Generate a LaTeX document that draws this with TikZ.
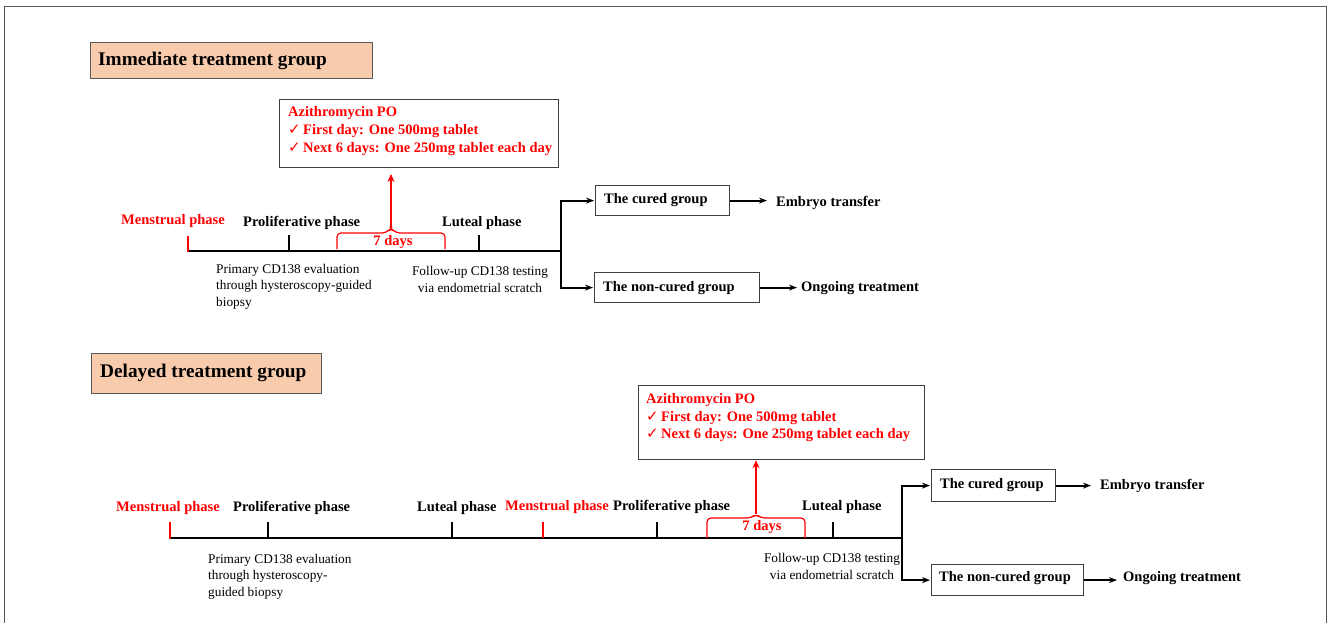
\documentclass[tikz,border=0pt]{standalone}
\usepackage{fontspec}
\setmainfont{Liberation Serif}
\newfontfamily\symfont{DejaVu Sans}
\usetikzlibrary{arrows.meta}
\definecolor{peach}{HTML}{F8CBAD}
\definecolor{tred}{HTML}{FF0000}
\definecolor{framegray}{HTML}{595959}
\definecolor{boxgray}{HTML}{404040}
\newcommand{\chk}{{\symfont\fontsize{15}{17}\selectfont ✓}\,}
\tikzset{
 tbox/.style={draw=framegray, line width=1.3pt, fill=peach, inner sep=0pt, anchor=north west},
 gbox/.style={draw=boxgray, line width=1.2pt, inner sep=0pt, anchor=north west},
 bl/.style={inner sep=0pt, anchor=base west, font=\fontsize{14.5}{18}\selectfont\bfseries},
 rl/.style={bl, text=tred},
 nt/.style={inner sep=0pt, anchor=base west, font=\fontsize{13.3}{16.3}\selectfont, align=left},
 ntc/.style={nt, anchor=base, align=center},
 ttl/.style={inner sep=0pt, anchor=base west, font=\fontsize{19.3}{22}\selectfont\bfseries},
 tline/.style={line width=2.5pt},
 tick/.style={line width=2.5pt},
 rtick/.style={line width=2.5pt, draw=tred},
 conn/.style={line width=2pt, shorten >=1pt, -{Stealth[length=8pt,width=6pt]}},
 rarr/.style={line width=1.2pt, draw=tred, -{Stealth[length=8pt,width=7pt]}},
 brc/.style={line width=1.2pt, draw=tred, rounded corners=4pt},
}
\begin{document}
\begin{tikzpicture}[x=1pt,y=-1pt]
\useasboundingbox (0,0) rectangle (1328,623);
\draw[framegray, line width=1pt] (4,623) -- (4,7) -- (1326,7) -- (1326,623);

% ================= Immediate =================
\node[tbox, minimum width=282pt, minimum height=36pt] (title1) at (90,42) {};
\node[ttl] (title1t) at (98,66) {Immediate treatment group};

\node[gbox, minimum width=279pt, minimum height=68pt] (azi1) at (279,99) {};
\node[rl] (azi1a) at (288,117) {Azithromycin PO};
\node[rl] (azi1b) at (288,135) {\chk First day: One 500mg tablet};
\node[rl] (azi1c) at (288,153) {\chk Next 6 days: One 250mg tablet each day};

\coordinate (tl1s) at (187,251);
\coordinate (tl1e) at (561,251);
\draw[tline] (tl1s) -- (tl1e);
\draw[rtick] (188,236) -- (188,252.2);
\draw[tick] (289,235) -- (289,251);
\draw[tick] (479,235) -- (479,251);

\node[rl] (men1) at (121,224) {Menstrual phase};
\node[bl] (pro1) at (243,226) {Proliferative phase};
\node[bl] (lut1) at (442,226) {Luteal phase};

\coordinate (b1tip) at (391,228);
\draw[brc] (337,249) -- (337,233) -- (386,233) -- (b1tip) -- (396,233) -- (445,233) -- (445,249);
\node[rl, anchor=base] (d1) at (393,245) {7 days};
\coordinate (a1end) at (391,174);
\draw[rarr] (b1tip) -- (a1end);

\node[nt] (prim1) at (216,306) {Primary CD138 evaluation\\through hysteroscopy-guided\\biopsy};
\node[ntc] (fol1) at (480,292) {Follow-up CD138 testing\\via endometrial scratch};

\node[gbox, minimum width=134pt, minimum height=30pt] (cur1) at (595,185) {};
\node[bl] (cur1t) at (604,204) {The cured group};
\node[gbox, minimum width=165pt, minimum height=30pt] (non1) at (594,272) {};
\node[bl] (non1t) at (603,291) {The non-cured group};
\draw[conn] (tl1e) |- (cur1.west);
\draw[conn] (tl1e) |- (non1.west);
\node[bl] (emb1) at (776,206) {Embryo transfer};
\node[bl] (ong1) at (801,291) {Ongoing treatment};
\draw[conn, shorten >=9pt] (cur1.east) -- (cur1.east -| emb1.west);
\draw[conn, shorten >=4pt] (non1.east) -- (non1.east -| ong1.west);

% ================= Delayed =================
\node[tbox, minimum width=230pt, minimum height=40pt] (title2) at (91,353) {};
\node[ttl] (title2t) at (100,377) {Delayed treatment group};

\node[gbox, minimum width=286pt, minimum height=74pt] (azi2) at (638,385) {};
\node[rl] (azi2a) at (646,403) {Azithromycin PO};
\node[rl] (azi2b) at (646,421) {\chk First day: One 500mg tablet};
\node[rl] (azi2c) at (646,438) {\chk Next 6 days: One 250mg tablet each day};

\coordinate (tl2s) at (170,538);
\coordinate (tl2e) at (902,538);
\draw[tline] (tl2s) -- (tl2e);
\draw[rtick] (170,522) -- (170,539.2);
\draw[tick] (268,522) -- (268,538);
\draw[tick] (452,522) -- (452,538);
\draw[rtick] (543,522) -- (543,538);
\draw[tick] (657,522) -- (657,538);
\draw[tick] (833,522) -- (833,538);

\node[rl] (men2) at (116,511) {Menstrual phase};
\node[bl] (pro2) at (233,511) {Proliferative phase};
\node[bl] (lut2) at (417,511) {Luteal phase};
\node[rl] (men3) at (505,510) {Menstrual phase};
\node[bl] (pro3) at (613,510) {Proliferative phase};
\node[bl] (lut3) at (802,510) {Luteal phase};

\coordinate (b2tip) at (756,514);
\draw[brc] (707,538) -- (707,518) -- (751,518) -- (b2tip) -- (761,518) -- (805,518) -- (805,538);
\node[rl, anchor=base] (d2) at (762,530) {7 days};
\draw[rarr] (b2tip) -- (b2tip |- azi2.south);

\node[nt] (prim2) at (208,596) {Primary CD138 evaluation\\through hysteroscopy-\\guided biopsy};
\node[ntc] (fol2) at (832,579) {Follow-up CD138 testing\\via endometrial scratch};

\node[gbox, minimum width=124pt, minimum height=32pt] (cur2) at (931,469) {};
\node[bl] (cur2t) at (940,488) {The cured group};
\node[gbox, minimum width=152pt, minimum height=31pt] (non2) at (931,564) {};
\node[bl] (non2t) at (939,581) {The non-cured group};
\draw[conn] (tl2e) |- (cur2.west);
\draw[conn] (tl2e) |- (non2.west);
\node[bl] (emb2) at (1100,489) {Embryo transfer};
\node[bl] (ong2) at (1123,581) {Ongoing treatment};
\draw[conn, shorten >=9pt] (cur2.east) -- (cur2.east -| emb2.west);
\draw[conn, shorten >=6pt] (non2.east) -- (non2.east -| ong2.west);
\end{tikzpicture}
\end{document}
